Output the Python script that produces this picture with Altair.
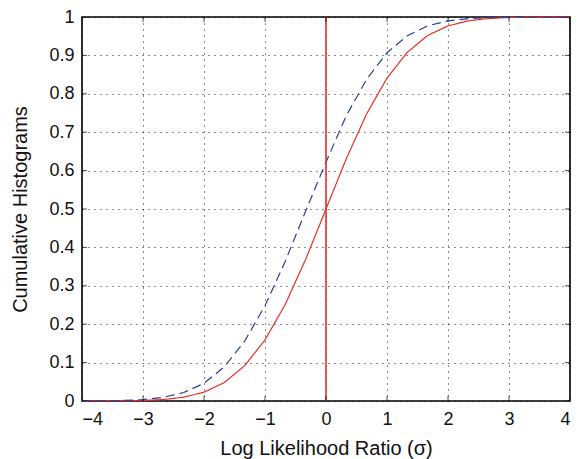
import altair as alt
import pandas as pd

# x grid (log likelihood ratio in sigma)
x_vals = [-4.0, -3.667, -3.333, -3.0, -2.667, -2.333, -2.0, -1.667, -1.333, -1.0,
          -0.667, -0.333, 0.0, 0.333, 0.667, 1.0, 1.333, 1.667, 2.0, 2.333,
          2.667, 3.0, 3.333, 3.667, 4.0]
# red solid curve
red_vals = [0.0, 0.0001, 0.0004, 0.0013, 0.0038, 0.0099, 0.023, 0.048, 0.092, 0.159,
            0.252, 0.369, 0.5, 0.631, 0.748, 0.841, 0.908, 0.952, 0.977, 0.990,
            0.996, 0.9987, 0.9996, 0.9999, 1.0]
# blue dashed curve
blue_vals = [0.0001, 0.0004, 0.0013, 0.0037, 0.0095, 0.022, 0.046, 0.089, 0.156, 0.248,
             0.364, 0.495, 0.622, 0.743, 0.838, 0.907, 0.951, 0.977, 0.990, 0.996,
             0.9986, 0.9995, 0.9999, 1.0, 1.0]
ref_x = [0]

x_ticks = [-4, -3, -2, -1, 0, 1, 2, 3, 4]
y_ticks = [0, 0.1, 0.2, 0.3, 0.4, 0.5, 0.6, 0.7, 0.8, 0.9, 1]
x_lim = [-4, 4]
y_lim = [0, 1]

RED = "#e8302a"
BLUE = "#2b3f9e"
FONT = "Liberation Sans"

df = pd.DataFrame({
    "x": x_vals * 2,
    "y": red_vals + blue_vals,
    "series": ["red"] * len(x_vals) + ["blue"] * len(x_vals),
})

# inward box ticks (MATLAB style), placed at tick values on the box edges
xt = pd.DataFrame([{"x": t, "y": e} for t in x_ticks for e in y_lim])
yt = pd.DataFrame([{"x": e, "y": t} for t in y_ticks for e in x_lim])

xscale = alt.Scale(domain=x_lim, nice=False, zero=False)
yscale = alt.Scale(domain=y_lim, nice=False, zero=False)

xaxis = alt.Axis(values=x_ticks, format="~g", title="Log Likelihood Ratio (σ)",
                 grid=True, gridDash=[1, 5], gridColor="#000", gridOpacity=0.9,
                 ticks=False, domain=False, labelPadding=9, titlePadding=10)
yaxis = alt.Axis(values=y_ticks, format="~g", title="Cumulative Histograms",
                 grid=True, gridDash=[1, 5], gridColor="#000", gridOpacity=0.9,
                 ticks=False, domain=False, labelPadding=8, titlePadding=18)

lines = alt.Chart(df).mark_line(strokeWidth=1.2, clip=False).encode(
    x=alt.X("x:Q", scale=xscale, axis=xaxis),
    y=alt.Y("y:Q", scale=yscale, axis=yaxis),
    color=alt.Color("series:N", scale=alt.Scale(domain=["red", "blue"], range=[RED, BLUE]), legend=None),
    strokeDash=alt.StrokeDash("series:N", scale=alt.Scale(domain=["red", "blue"], range=[[1, 0], [9, 5]]), legend=None),
    detail="series:N",
)

vline = alt.Chart(pd.DataFrame({"x": ref_x})).mark_rule(color=RED, strokeWidth=1.6).encode(
    x=alt.X("x:Q", scale=xscale, axis=xaxis),
)

xticks_in = alt.Chart(xt).mark_tick(orient="vertical", size=10, thickness=1, color="#000", clip=True).encode(
    x=alt.X("x:Q", scale=xscale, axis=xaxis), y=alt.Y("y:Q", scale=yscale, axis=yaxis))
yticks_in = alt.Chart(yt).mark_tick(orient="horizontal", size=10, thickness=1, color="#000", clip=True).encode(
    x=alt.X("x:Q", scale=xscale, axis=xaxis), y=alt.Y("y:Q", scale=yscale, axis=yaxis))

chart = alt.layer(lines, vline, xticks_in, yticks_in).properties(
    width=488, height=384,
    autosize=alt.AutoSizeParams(type="none"),
    padding={"left": 74, "top": 9, "right": 8, "bottom": 62},
).configure_view(
    stroke="#000", strokeWidth=1.6
).configure_axis(
    labelFont=FONT, titleFont=FONT, labelFontSize=18, titleFontSize=20,
    labelColor="#111", titleColor="#111", titleFontWeight="normal",
)

chart.save("out.html", embed_options={"renderer": "svg", "actions": False})
